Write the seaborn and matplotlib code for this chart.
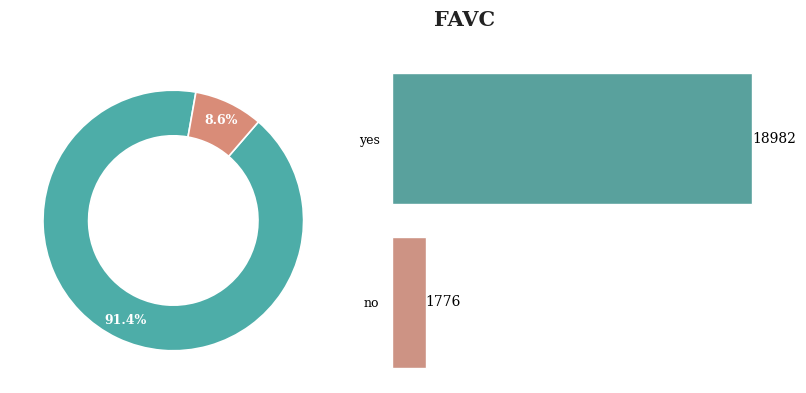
import numpy as np
import pandas as pd
import matplotlib.pyplot as plt
import seaborn as sns

# FAVC value counts
categories = ["yes", "no"]
counts = [18982, 1776]
colors = ["#4dada8", "#d98c78"]

sns.set_style("white")
plt.rcParams["font.family"] = ["DejaVu Serif"]

fig = plt.figure(figsize=(8.06, 3.93), dpi=100)
ax_pie = fig.add_axes([0.0, -0.006, 0.43, 0.89])
ax_bar = fig.add_axes([0.4864, 0.0229, 0.4777, 0.8321])

# donut
wedges, texts, autotexts = ax_pie.pie(
    counts, colors=colors, startangle=80, autopct="%1.1f%%", pctdistance=0.85,
    wedgeprops=dict(width=0.35, edgecolor="white", linewidth=1.2),
    textprops=dict(color="white", fontweight="bold", fontsize=9),
)
ax_pie.set_aspect("equal")
ax_pie.set_xlim(-1.33, 1.33)
ax_pie.set_ylim(-1.33, 1.33)

# horizontal bar
df = pd.DataFrame({"FAVC": categories, "count": counts})
sns.barplot(data=df, y="FAVC", x="count", hue="FAVC", palette=colors,
            legend=False, ax=ax_bar, width=0.8)
for c in ax_bar.containers:
    ax_bar.bar_label(c, fontsize=10, color="black")
ax_bar.set_xlim(0, 18982 * 1.07)
ax_bar.set_ylim(1.5, -0.5)
ax_bar.set_xlabel("")
ax_bar.set_ylabel("")
ax_bar.set_xticks([])
ax_bar.tick_params(axis="y", labelsize=9, length=0, pad=9, labelcolor="black")
sns.despine(ax=ax_bar, left=True, bottom=True)

fig.text(0.577, 0.949, "FAVC", fontsize=15, fontweight="bold",
         ha="center", va="center", color="#222222")
fig.savefig("out.png", dpi=100)
